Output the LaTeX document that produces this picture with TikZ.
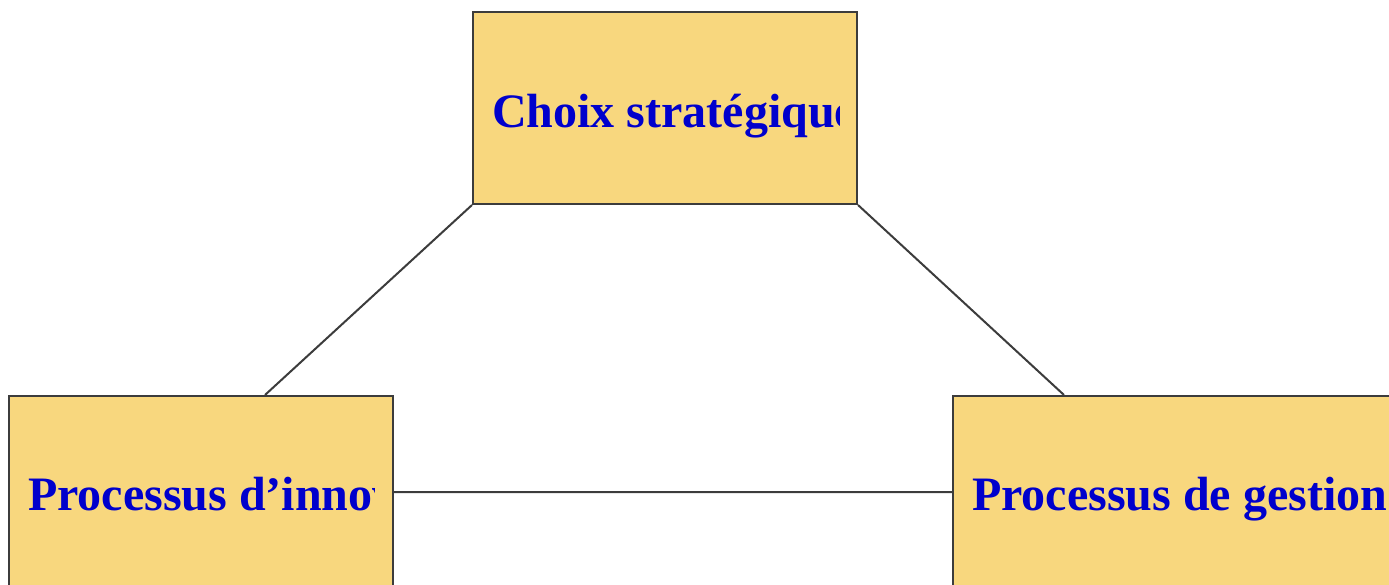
\documentclass[tikz,border=0pt]{standalone}
\usepackage{fontspec}
\setmainfont{Liberation Serif}
\usetikzlibrary{positioning}

\definecolor{boxfill}{HTML}{F8D77E}
\definecolor{boxline}{HTML}{3C3C3C}
\definecolor{labelblue}{HTML}{0000CC}

\begin{document}
\begin{tikzpicture}[x=1pt,y=1pt]
\tikzstyle{pbox}=[draw=boxline,fill=boxfill,line width=2pt,minimum width=384pt,minimum height=192pt,inner sep=0pt]
\tikzstyle{plabel}=[anchor=base west,inner sep=0pt,text=labelblue,font=\fontsize{48}{58}\selectfont\bfseries]
\tikzstyle{link}=[draw=boxline,line width=2pt]

\clip (0,0) rectangle (1389,584);

\node[pbox] (choix) at (665,476) {};
\node[pbox] (innovation) [below of=choix,node distance=384pt,xshift=-464pt] {};
\node[pbox,minimum width=460pt] (gestion) [below of=choix,node distance=384pt,xshift=518pt] {};

\begin{scope}
  \clip ([xshift=19pt]choix.south west) rectangle ([xshift=-19pt]choix.north east);
  \node[plabel] (choix_txt) at ([xshift=20pt,yshift=-20pt]choix.west) {Choix stratégique};
\end{scope}
\begin{scope}
  \clip ([xshift=19pt]innovation.south west) rectangle ([xshift=-20pt]innovation.north east);
  \node[plabel] (innovation_txt) at ([xshift=20pt,yshift=-18pt]innovation.west) {Processus d’innovation};
\end{scope}
\node[plabel] (gestion_txt) at ([xshift=20pt,yshift=-18pt]gestion.west) {Processus de gestion};

\path[link]
  (choix.south west) -- ([xshift=64pt]innovation.north)
  (choix.south east) -- ([xshift=112pt]gestion.north west)
  (innovation.east) -- (gestion.west)
;
\end{tikzpicture}
\end{document}
